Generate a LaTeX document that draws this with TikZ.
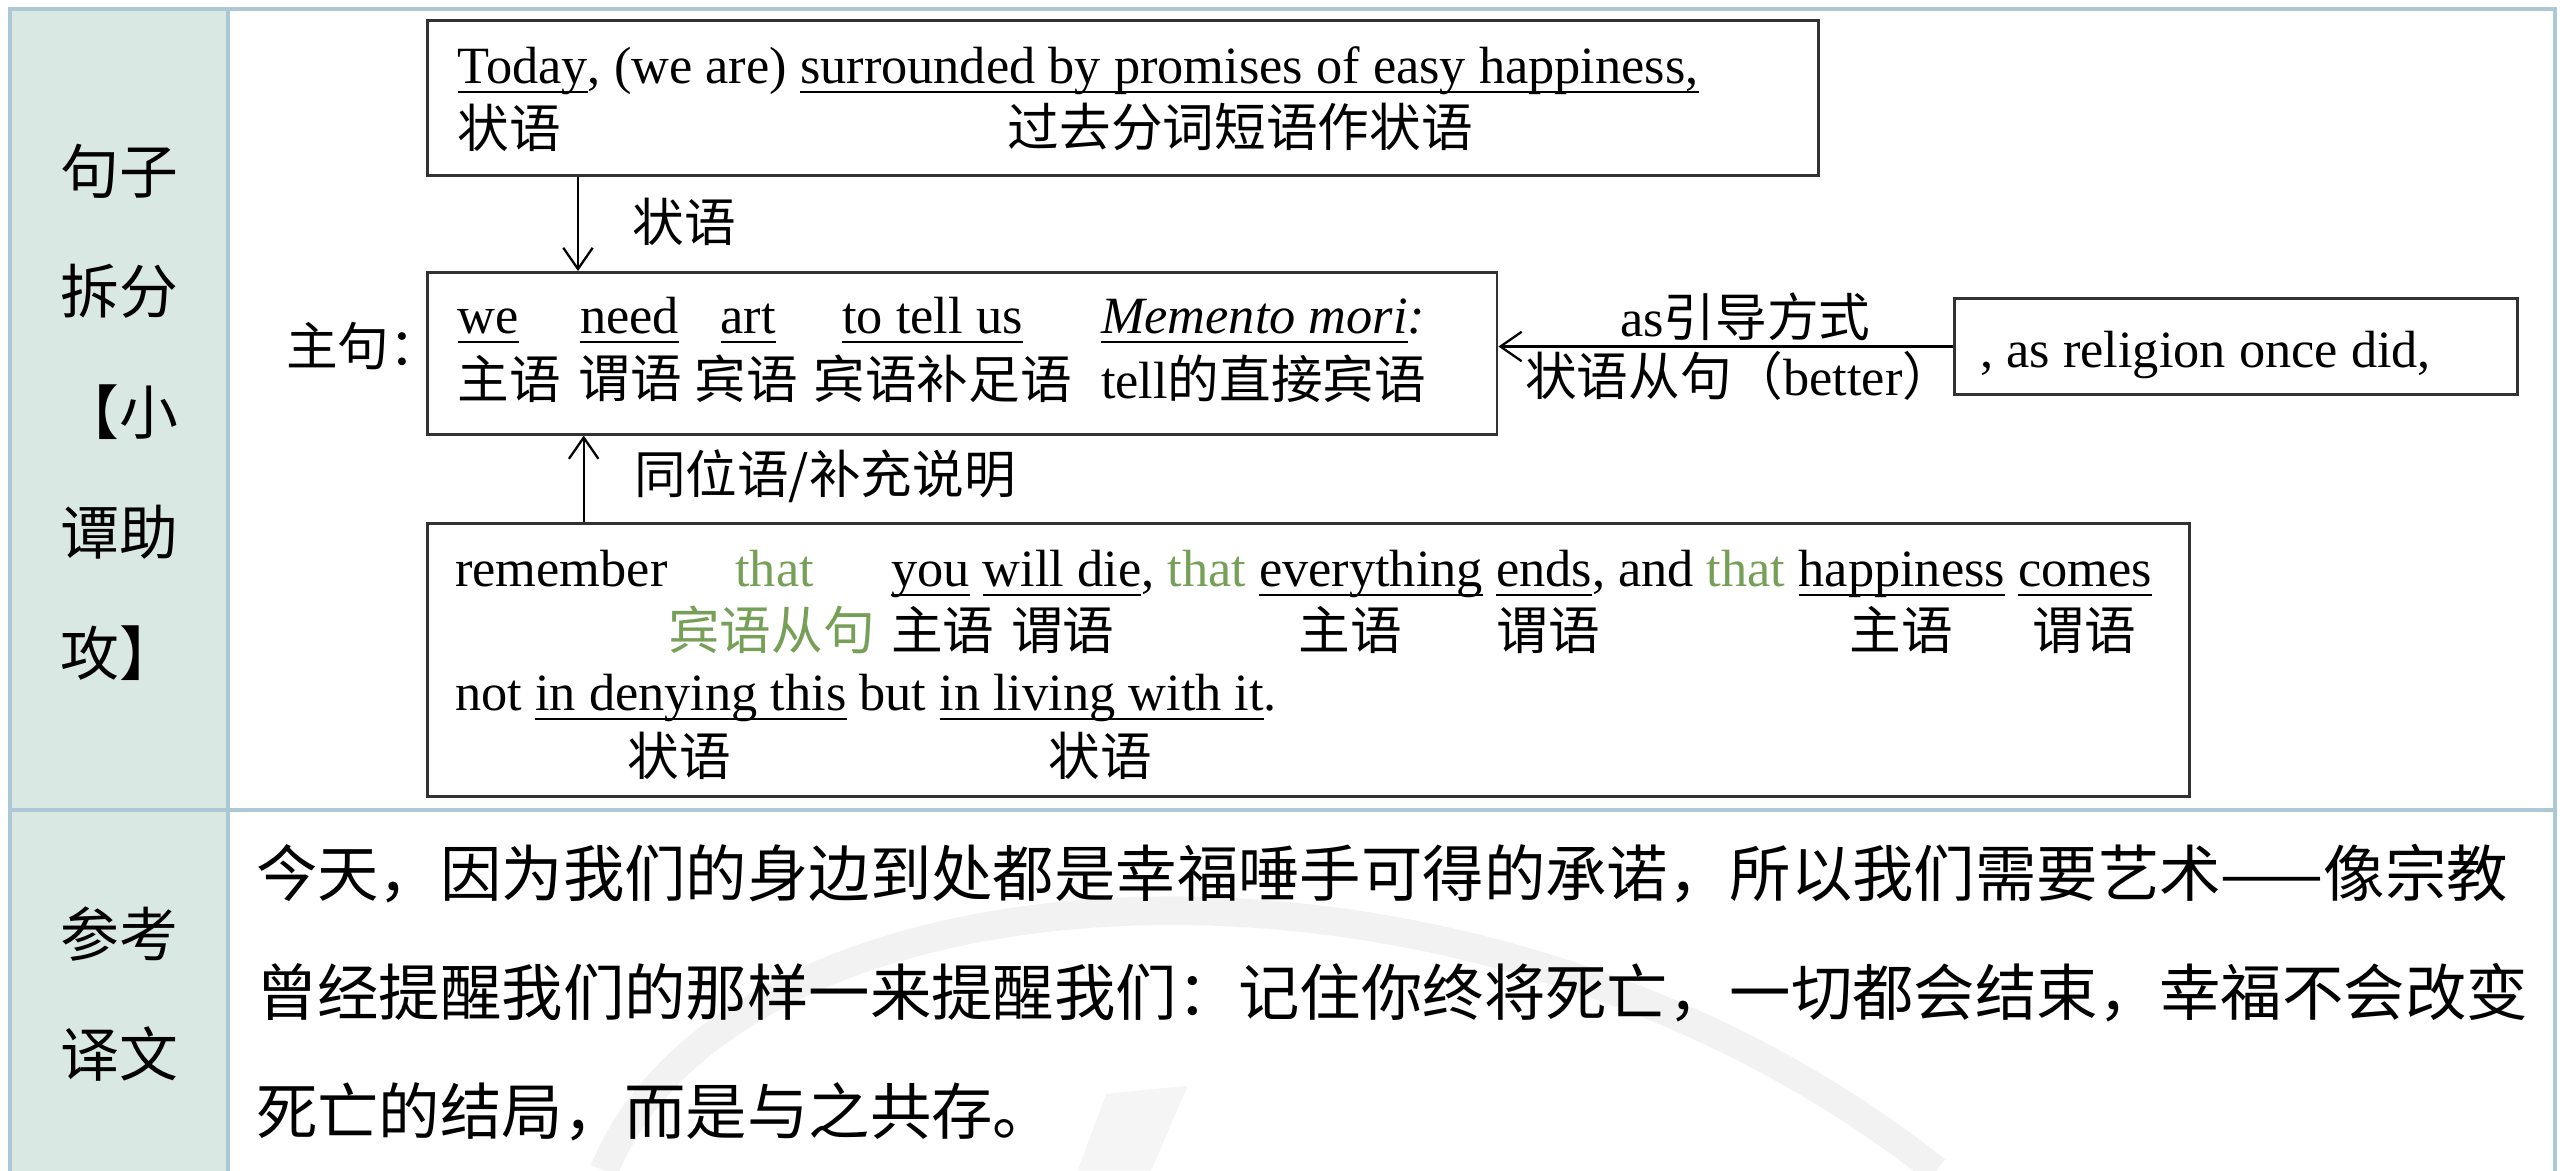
\documentclass[tikz,border=0pt]{standalone}
\usepackage{fontspec}
\setmainfont{Liberation Serif}
\newfontfamily\cjk{Noto Sans CJK SC}
\usetikzlibrary{arrows.meta}
\definecolor{Frame}{RGB}{172,200,212}
\definecolor{Sage}{RGB}{218,232,228}
\definecolor{Olive}{RGB}{118,160,88}
\definecolor{Ink}{RGB}{50,50,50}
\newcommand{\boxfont}{\fontsize{18.25}{21.6}\selectfont}
\newcommand{\tagfont}{\fontsize{18}{21.6}\selectfont}
% underline at a fixed depth
\newcommand{\undl}[1]{\leavevmode\setbox0=\hbox{#1}\rlap{\vrule width\wd0 height -2.8pt depth 3.5pt}\box0\relax}

\begin{document}
\begin{tikzpicture}[
    sbox/.style={rectangle,draw=Ink,line width=1pt,inner sep=0pt,anchor=north west},
    word/.style={inner sep=0pt,anchor=base west,font=\boxfont},
    tag/.style={inner sep=0pt,anchor=west,font=\tagfont\cjk},
    side/.style={inner sep=0pt,align=center,font=\cjk\fontsize{20.5}{42}\selectfont},
    para/.style={inner sep=0pt,anchor=base west,font=\cjk\fontsize{21.4}{25}\selectfont},
    grid/.style={Frame,line width=1.4pt},
    arrow/.style={-{Straight Barb[length=2.6mm,width=3.6mm]},line width=0.8pt}
]
\useasboundingbox (0,0) rectangle (31.36,-14.34);

% table
\fill[Sage] (0.126,-0.114) rectangle (2.792,-14.34);
\draw[black!5,line width=0.35cm] (7.4,-14.34) .. controls (9.0,-10.4) and (18.0,-9.8) .. (23.72,-14.34);
\fill[black!4] (13.2,-14.34) -- (13.55,-13.4) -- (14.55,-13.3) -- (14.1,-14.34) -- cycle;
\draw[grid] (0.126,-14.34) -- (0.126,-0.114) -- (31.3,-0.114) -- (31.3,-14.34);
\draw[grid] (2.792,-0.114) -- (2.792,-14.34);
\draw[grid] (0.126,-9.92) -- (31.3,-9.92);

\node[side] (split) at (1.46,-5.05) {句子\\拆分\\【小\\谭助\\攻】};
\node[side] (transl) at (1.46,-12.18) {参考\\译文};

% sentence boxes
\node[sbox,minimum width=17.04cm,minimum height=1.9cm] (today) at (5.22,-0.232) {};
\node[sbox,minimum width=13.1cm,minimum height=1.98cm] (main) at (5.22,-3.32) {};
\node[sbox,minimum width=6.9cm,minimum height=1.186cm] (asbox) at (23.92,-3.634) {};
\node[sbox,minimum width=21.58cm,minimum height=3.34cm] (thatbox) at (5.22,-6.4) {};

% box 1
\node[word] (today-en) at (5.6,-1.02) {\undl{Today}, (we are) \undl{surrounded by promises of easy happiness,}};
\node[tag] (today-adv) at (5.6,-1.56) {状语};
\node[tag] (today-pp) at (12.34,-1.56) {过去分词短语作状语};

% main clause
\node[tag] (main-lbl) at (3.5,-4.24) {主句：};
\node[word] (we) at (5.6,-4.08) {\undl{we}};
\node[word] (need) at (7.1,-4.08) {\undl{need}};
\node[word] (art) at (8.82,-4.08) {\undl{art}};
\node[word] (tell) at (10.31,-4.08) {\undl{to tell us}};
\node[word] (memento) at (13.48,-4.08) {\undl{\textit{Memento mori}}\textit{:}};
\node[tag] (we-r) at (5.6,-4.64) {主语};
\node[tag] (need-r) at (7.08,-4.64) {谓语};
\node[tag] (art-r) at (8.5,-4.64) {宾语};
\node[tag] (tell-r) at (9.96,-4.64) {宾语补足语};
\node[word,anchor=west] (memento-r) at (13.48,-4.64) {tell{\cjk\tagfont 的直接宾语}};

% as clause
\node[word] (as-en) at (24.25,-4.5) {, as religion once did,};

% connectors
\coordinate (advx) at (7.08,0);
\coordinate (appx) at (7.15,0);
\draw[arrow] (advx |- today.south) -- (advx |- main.north);
\node[tag] (adv-lbl) at (7.74,-2.72) {状语};
\draw[arrow] (asbox.west) -- (asbox.west -| main.east);
\node[word,anchor=base] (as-top) at (21.38,-4.12) {as{\cjk\tagfont 引导方式}};
\node[word,anchor=center] (as-bot) at (21.31,-4.61) {{\cjk\tagfont 状语从句（}better{\cjk\tagfont ）}};
\draw[arrow] (appx |- thatbox.north) -- (appx |- main.south);
\node[tag] (app-lbl) at (7.76,-5.84) {同位语/补充说明};

% that clauses
\node[word] (remember) at (5.57,-7.18) {remember};
\node[word,Olive] (that1) at (9.0,-7.18) {that};
\node[word] (clause) at (10.91,-7.18) {\undl{you} \undl{will die}, \textcolor{Olive}{that} \undl{everything} \undl{ends}, and \textcolor{Olive}{that} \undl{happiness} \undl{comes}};
\node[tag,Olive] (obj-r) at (8.18,-7.72) {宾语从句};
\node[tag] (s1) at (10.91,-7.72) {主语};
\node[tag] (p1) at (12.38,-7.72) {谓语};
\node[tag] (s2) at (15.9,-7.72) {主语};
\node[tag] (p2) at (18.33,-7.72) {谓语};
\node[tag] (s3) at (22.65,-7.72) {主语};
\node[tag] (p3) at (24.89,-7.72) {谓语};
\node[word] (notbut) at (5.57,-8.7) {not \undl{in denying this} but \undl{in living with it}.};
\node[tag] (a1) at (7.68,-9.26) {状语};
\node[tag] (a2) at (12.84,-9.26) {状语};

% translation
\node[para] (tr1) at (3.13,-10.98) {今天，因为我们的身边到处都是幸福唾手可得的承诺，所以我们需要艺术——像宗教};
\node[para] (tr2) at (3.13,-12.44) {曾经提醒我们的那样一来提醒我们：记住你终将死亡，一切都会结束，幸福不会改变};
\node[para] (tr3) at (3.13,-13.9) {死亡的结局，而是与之共存。};

\end{tikzpicture}
\end{document}
